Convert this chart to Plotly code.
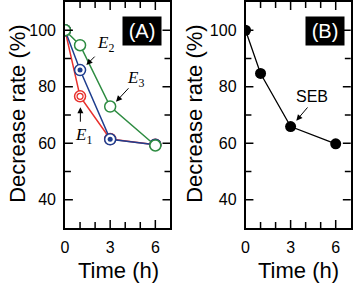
import plotly.graph_objects as go

time_h = [0, 1, 3, 6]
e1_rate = [100, 76.6, 61.5, 59.5]
e2_rate = [100, 85.9, 61.4, 59.5]
e3_rate = [100, 94.7, 73.0, 59.2]
seb_rate = [100, 84.7, 65.9, 59.8]

x_ticks = [1, 2, 3, 4, 5, 6]
x_labels = [0, 3, 6]
y_ticks = [40, 50, 60, 70, 80, 90, 100]
y_labels = [40, 60, 80, 100]

RED = "#e8312d"
BLUE = "#1f3e8e"
GREEN = "#2e8c42"
FONT = "Liberation Sans, Arial, sans-serif"

fig = go.Figure()

# Panel A
fig.add_trace(go.Scatter(x=time_h, y=e1_rate, mode="lines+markers",
                         line=dict(color=RED, width=1.5),
                         marker=dict(size=11, color="white", line=dict(color=RED, width=1.5)),
                         xaxis="x", yaxis="y", showlegend=False))
fig.add_trace(go.Scatter(x=time_h, y=e1_rate, mode="markers",
                         marker=dict(size=6, symbol="circle-open", color=RED, line=dict(color=RED, width=1.3)),
                         xaxis="x", yaxis="y", showlegend=False))
fig.add_trace(go.Scatter(x=time_h, y=e2_rate, mode="lines+markers",
                         line=dict(color=BLUE, width=1.5),
                         marker=dict(size=11, color="white", line=dict(color=BLUE, width=1.5)),
                         xaxis="x", yaxis="y", showlegend=False))
fig.add_trace(go.Scatter(x=time_h, y=e2_rate, mode="markers",
                         marker=dict(size=5, color=BLUE),
                         xaxis="x", yaxis="y", showlegend=False))
fig.add_trace(go.Scatter(x=time_h, y=e3_rate, mode="lines+markers",
                         line=dict(color=GREEN, width=1.5),
                         marker=dict(size=11, color="white", line=dict(color=GREEN, width=1.5)),
                         xaxis="x", yaxis="y", showlegend=False))

# Panel B
fig.add_trace(go.Scatter(x=time_h, y=seb_rate, mode="lines+markers",
                         line=dict(color="black", width=1.3),
                         marker=dict(size=11, color="black"),
                         xaxis="x2", yaxis="y2", showlegend=False))

W, H = 353, 285
domA = [61.7 / W, 168.3 / W]
domB = [244.3 / W, 350.7 / W]

common = dict(ticks="", showline=True, linecolor="black", linewidth=1.6, mirror=True,
              showgrid=False, zeroline=False, ticklabelstandoff=4,
              tickfont=dict(size=16, family=FONT, color="black"))

fig.update_layout(
    width=W, height=H,
    margin=dict(l=0, r=0, t=2, b=57),
    plot_bgcolor="white", paper_bgcolor="white",
    xaxis=dict(domain=domA, anchor="y", range=[0, 7], tickvals=x_labels, **common),
    yaxis=dict(domain=[0, 1], anchor="x", range=[30, 110], tickvals=y_labels, **common),
    xaxis2=dict(domain=domB, anchor="y2", range=[0, 7], tickvals=x_labels, **common),
    yaxis2=dict(domain=[0, 1], anchor="x2", range=[30, 110], tickvals=y_labels, **common),
)

# inside tick marks on all four sides (axis decoration)
shapes = []
for xa, ya in [("x", "y"), ("x2", "y2")]:
    for v in y_ticks:
        f = 0.075 if v in y_labels else 0.056
        for a, b in [(0, f), (1 - f, 1)]:
            shapes.append(dict(type="line", xref=f"{xa} domain", yref=ya, x0=a, x1=b, y0=v, y1=v,
                               line=dict(color="black", width=1.5), layer="above"))
    for v in x_ticks:
        f = 0.035 if v in x_labels else 0.027
        for a, b in [(0, f), (1 - f, 1)]:
            shapes.append(dict(type="line", xref=xa, yref=f"{ya} domain", x0=v, x1=v, y0=a, y1=b,
                               line=dict(color="black", width=1.5), layer="above"))
fig.update_layout(shapes=shapes)

ann = []
for xc in [13 / W, 192 / W]:
    ann.append(dict(text="Decrease rate (%)", x=xc, y=115 / 226, xref="paper", yref="paper",
                    textangle=-90, showarrow=False, font=dict(size=22, family=FONT, color="black"),
                    xanchor="center", yanchor="middle"))
for xc in [116 / W, 298 / W]:
    ann.append(dict(text="Time (h)", x=xc, y=-42 / 226, xref="paper", yref="paper",
                    showarrow=False, font=dict(size=22, family=FONT, color="black"),
                    xanchor="center", yanchor="middle"))
ann.append(dict(text="(A)", x=5.1, y=99.9, xref="x", yref="y", showarrow=False,
                bgcolor="black", font=dict(size=20, family=FONT, color="white"),
                width=36, height=26, xanchor="center", yanchor="middle"))
ann.append(dict(text="(B)", x=5.26, y=99.9, xref="x2", yref="y2", showarrow=False,
                bgcolor="black", font=dict(size=20, family=FONT, color="white"),
                width=36, height=26, xanchor="center", yanchor="middle"))
arrows_A = [((1.42, 87.7), (2.07, 91.2)), ((3.39, 74.7), (4.31, 80.0)), ((1.02, 72.7), (1.02, 67.1))]
for (hx, hy), (tx, ty) in arrows_A:
    ann.append(dict(text="", x=hx, y=hy, ax=tx, ay=ty, xref="x", yref="y", axref="x", ayref="y",
                    showarrow=True, arrowhead=2, arrowsize=1.2, arrowwidth=1, arrowcolor="black"))
labels_A = [("<i>E</i><sub>2</sub>", 2.71, 95.3), ("<i>E</i><sub>3</sub>", 4.68, 82.9),
            ("<i>E</i><sub>1</sub>", 1.2, 62.7)]
for t, x, y in labels_A:
    ann.append(dict(text=t, x=x, y=y, xref="x", yref="y", showarrow=False,
                    font=dict(size=17, family="Liberation Serif, Times New Roman, serif", color="black")))
ann.append(dict(text="", x=3.38, y=68.0, ax=4.21, ay=73.2, xref="x2", yref="y2", axref="x2", ayref="y2",
                showarrow=True, arrowhead=2, arrowsize=1.2, arrowwidth=1, arrowcolor="black"))
ann.append(dict(text="SEB", x=4.39, y=76.6, xref="x2", yref="y2", showarrow=False,
                font=dict(size=16, family=FONT, color="black")))
fig.update_layout(annotations=ann)

fig.write_html("out.html", config={"displayModeBar": False},
               post_script="document.body.style.margin='0';")
